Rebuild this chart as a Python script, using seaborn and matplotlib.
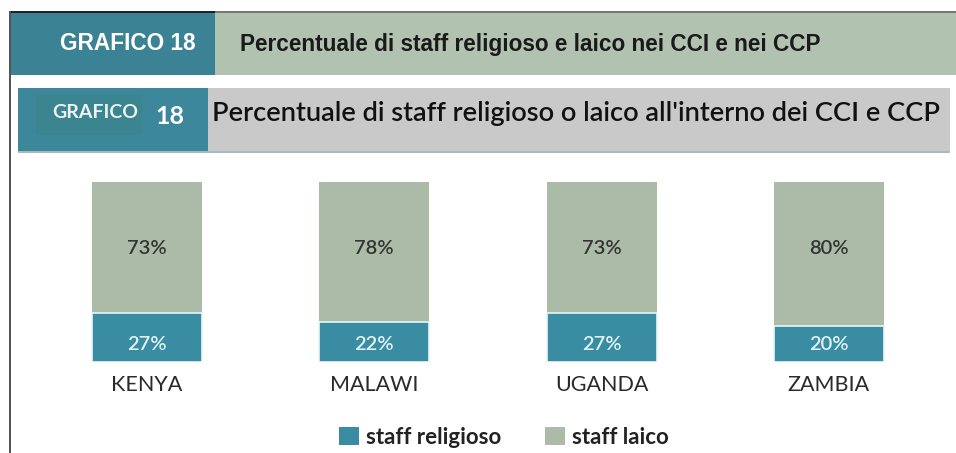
import matplotlib
matplotlib.use("Agg")
import matplotlib.pyplot as plt
from matplotlib.patches import Rectangle, Patch
import seaborn as sns
import pandas as pd

countries = ["KENYA", "MALAWI", "UGANDA", "ZAMBIA"]
religioso = [27, 22, 27, 20]
laico = [73, 78, 73, 80]
series_names = ["staff religioso", "staff laico"]
outer_tag = "GRAFICO 18"
outer_title = "Percentuale di staff religioso e laico nei CCI e nei CCP"
inner_tag_word = "GRAFICO"
inner_tag_num = "18"
inner_title = "Percentuale di staff religioso o laico all'interno dei CCI e CCP"

TEAL = "#3d879b"
TEAL_BAR = "#3a8ca2"
SAGE = "#b2c2b0"
SAGE_BAR = "#acbaa8"
GRAY = "#c9c9c9"

W, H = 956, 453
sns.set_theme(style="white")
plt.rcParams["font.family"] = ["Lato", "DejaVu Sans"]

fig = plt.figure(figsize=(W / 100, H / 100), dpi=100)
fig.patch.set_facecolor("white")


def rect(x0, y0, x1, y1, color, z=0, **kw):
    fig.patches.append(Rectangle((x0 / W, 1 - y1 / H), (x1 - x0) / W, (y1 - y0) / H,
                                 transform=fig.transFigure, facecolor=color,
                                 edgecolor="none", zorder=z, **kw))


def ftext(x, y, s, **kw):
    fig.text(x / W, 1 - y / H, s, **kw)


# outer header band
rect(10, 12, 215, 75, "#3b8394")
rect(215, 12, 956, 75, SAGE)
rect(10, 11, 215, 13, "#222222", z=1)
rect(215, 11, 956, 12.5, "#777777", z=1)
rect(9, 11, 10.6, 453, "#555555", z=1)
ftext(128, 44, outer_tag, color="white", fontsize=16.3, fontweight="bold",
      family=["Liberation Sans"], ha="center", va="center")
ftext(240, 44, outer_title, color="#1a1a1a", fontsize=16.3, fontweight="bold",
      family=["Liberation Sans"], ha="left", va="center")

# inner header band
rect(18, 88, 208, 152, TEAL)
rect(36, 95, 142, 135, "#3a8590")
rect(208, 88, 950, 152, GRAY)
rect(18, 150.5, 950, 152.5, "#a9b9bd", z=1)
ftext(95, 113, inner_tag_word, color="#eef4f4", fontsize=14, fontweight="bold",
      ha="center", va="center")
ftext(170, 117, inner_tag_num, color="white", fontsize=18, fontweight="bold",
      ha="center", va="center")
ftext(212, 113, inner_title, color="#111111", fontsize=19.6, fontweight="semibold",
      ha="left", va="center")

# bars
df = pd.DataFrame({"country": countries, "religioso": religioso, "laico": laico})
df["totale"] = df["religioso"] + df["laico"]

ax = fig.add_axes([0, 1 - 362 / H, 1, 180 / H])
ax.set_facecolor("none")
sns.barplot(data=df, x="country", y="totale", color=SAGE_BAR, saturation=1,
            width=0.484, ax=ax, edgecolor="none")
sns.barplot(data=df, x="country", y="religioso", color=TEAL_BAR, saturation=1,
            width=0.484, ax=ax, edgecolor="#e8f6f8", linewidth=1.2)
px_per_unit = 227.3
ax.set_xlim(-147 / px_per_unit, (W - 147) / px_per_unit)
ax.set_ylim(0, 100)
ax.axis("off")

for i, (r, l) in enumerate(zip(religioso, laico)):
    ax.text(i, 9.5, f"{r}%", ha="center", va="center", color="#dff3f6",
            fontsize=14.5, fontweight="semibold")
    ax.text(i, 63, f"{l}%", ha="center", va="center", color="#333333",
            fontsize=14.5, fontweight="semibold")
    ax.text(i, -13, countries[i], ha="center", va="center", color="#2a2a2a",
            fontsize=15.5)

handles = [Patch(facecolor=TEAL_BAR, edgecolor="none"),
           Patch(facecolor=SAGE_BAR, edgecolor="none")]
leg = fig.legend(handles, series_names, loc="center", ncol=2,
                 bbox_to_anchor=(504 / W, 1 - 437 / H), frameon=False,
                 handlelength=0.9, handleheight=0.9, handletextpad=0.3,
                 columnspacing=2.0, prop={"size": 16, "weight": "bold"})
for t in leg.get_texts():
    t.set_color("#222222")

fig.savefig("out.png", dpi=100, facecolor="white")
